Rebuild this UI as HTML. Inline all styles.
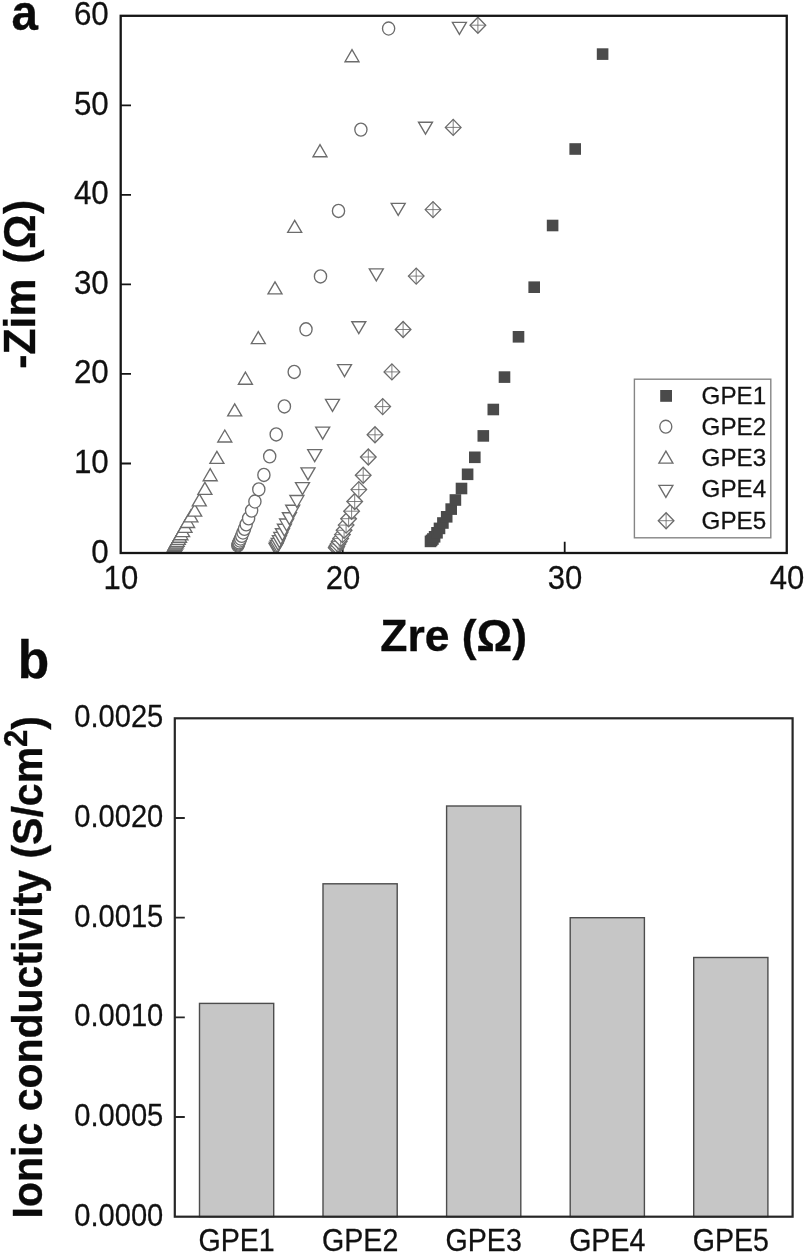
<!DOCTYPE html>
<html><head><meta charset="utf-8"><title>figure</title>
<style>html,body{margin:0;padding:0;background:#fff}svg{display:block;will-change:transform;filter:blur(0.38px)}text{font-family:"Liberation Sans",sans-serif;fill:#111;stroke:#111;stroke-width:0.25px}.tk{font-size:30px}.b{font-weight:bold;fill:#0a0a0a;stroke:#0a0a0a;stroke-width:0.35px}</style></head><body>
<svg width="804" height="1253" viewBox="0 0 804 1253">
<rect width="804" height="1253" fill="#fff"/>
<text class="b" transform="translate(11.60 29.60) scale(1.0 1.07)" font-size="47.5" text-anchor="start">a</text>
<path d="M120.7 463.5h10.3M120.7 373.9h10.3M120.7 284.4h10.3M120.7 194.9h10.3M120.7 105.3h10.3M342.7 553.0v-11.3M564.7 553.0v-11.3" stroke="#151515" stroke-width="1.8" fill="none"/>
<text transform="translate(108.80 562.50) scale(1.0 1.07)" font-size="31.4" text-anchor="end">0</text>
<text transform="translate(108.80 472.97) scale(1.0 1.07)" font-size="31.4" text-anchor="end">10</text>
<text transform="translate(108.80 383.43) scale(1.0 1.07)" font-size="31.4" text-anchor="end">20</text>
<text transform="translate(108.80 293.90) scale(1.0 1.07)" font-size="31.4" text-anchor="end">30</text>
<text transform="translate(108.80 204.37) scale(1.0 1.07)" font-size="31.4" text-anchor="end">40</text>
<text transform="translate(108.80 114.83) scale(1.0 1.07)" font-size="31.4" text-anchor="end">50</text>
<text transform="translate(108.80 25.30) scale(1.0 1.07)" font-size="31.4" text-anchor="end">60</text>
<text transform="translate(120.90 589.00) scale(0.99 1.06)" font-size="31.4" text-anchor="middle">10</text>
<text transform="translate(342.92 589.00) scale(0.99 1.06)" font-size="31.4" text-anchor="middle">20</text>
<text transform="translate(564.93 589.00) scale(0.99 1.06)" font-size="31.4" text-anchor="middle">30</text>
<text transform="translate(786.95 589.00) scale(0.99 1.06)" font-size="31.4" text-anchor="middle">40</text>
<text class="b" transform="translate(34.60 284.20) rotate(-90) scale(0.97 0.99)" font-size="44" text-anchor="middle">-Zim <tspan dx="3.2">(</tspan><tspan dx="0.8">Ω</tspan><tspan dx="0.6">)</tspan></text>
<text class="b" transform="translate(453.60 650.80) scale(1.01 1.0)" font-size="44" text-anchor="middle">Zre (Ω)</text>
<clipPath id="ca"><rect x="120.7" y="15.8" width="666.05" height="538.20"/></clipPath>
<g clip-path="url(#ca)">
<rect x="424.7" y="535.6" width="11.6" height="11.6" fill="#4a4a4a"/><rect x="425.8" y="534.6" width="11.6" height="11.6" fill="#4a4a4a"/><rect x="427.1" y="533.2" width="11.6" height="11.6" fill="#4a4a4a"/><rect x="428.8" y="531.0" width="11.6" height="11.6" fill="#4a4a4a"/><rect x="431.2" y="527.0" width="11.6" height="11.6" fill="#4a4a4a"/><rect x="433.7" y="522.6" width="11.6" height="11.6" fill="#4a4a4a"/><rect x="437.1" y="517.2" width="11.6" height="11.6" fill="#4a4a4a"/><rect x="440.9" y="511.0" width="11.6" height="11.6" fill="#4a4a4a"/><rect x="445.4" y="503.3" width="11.6" height="11.6" fill="#4a4a4a"/><rect x="449.6" y="494.2" width="11.6" height="11.6" fill="#4a4a4a"/><rect x="455.7" y="482.7" width="11.6" height="11.6" fill="#4a4a4a"/><rect x="461.8" y="468.5" width="11.6" height="11.6" fill="#4a4a4a"/><rect x="469.0" y="451.5" width="11.6" height="11.6" fill="#4a4a4a"/><rect x="477.5" y="430.1" width="11.6" height="11.6" fill="#4a4a4a"/><rect x="487.5" y="403.7" width="11.6" height="11.6" fill="#4a4a4a"/><rect x="498.7" y="371.3" width="11.6" height="11.6" fill="#4a4a4a"/><rect x="512.7" y="331.0" width="11.6" height="11.6" fill="#4a4a4a"/><rect x="528.4" y="281.4" width="11.6" height="11.6" fill="#4a4a4a"/><rect x="546.8" y="219.7" width="11.6" height="11.6" fill="#4a4a4a"/><rect x="569.4" y="143.2" width="11.6" height="11.6" fill="#4a4a4a"/><rect x="596.8" y="48.3" width="11.6" height="11.6" fill="#4a4a4a"/>
<g fill="#fff" stroke="#6c6c6c" stroke-width="1.35" stroke-linejoin="miter">
<ellipse cx="237.8" cy="545.5" rx="6.1" ry="6.55"/><ellipse cx="238.2" cy="544.6" rx="6.1" ry="6.55"/><ellipse cx="238.6" cy="543.6" rx="6.1" ry="6.55"/><ellipse cx="239.0" cy="542.4" rx="6.1" ry="6.55"/><ellipse cx="239.8" cy="540.5" rx="6.1" ry="6.55"/><ellipse cx="240.6" cy="538.5" rx="6.1" ry="6.55"/><ellipse cx="241.7" cy="535.8" rx="6.1" ry="6.55"/><ellipse cx="243.0" cy="532.5" rx="6.1" ry="6.55"/><ellipse cx="244.5" cy="528.8" rx="6.1" ry="6.55"/><ellipse cx="246.2" cy="524.3" rx="6.1" ry="6.55"/><ellipse cx="248.6" cy="518.3" rx="6.1" ry="6.55"/><ellipse cx="251.6" cy="510.6" rx="6.1" ry="6.55"/><ellipse cx="254.9" cy="501.5" rx="6.1" ry="6.55"/><ellipse cx="258.8" cy="489.4" rx="6.1" ry="6.55"/><ellipse cx="263.9" cy="474.9" rx="6.1" ry="6.55"/><ellipse cx="269.7" cy="456.3" rx="6.1" ry="6.55"/><ellipse cx="276.2" cy="434.4" rx="6.1" ry="6.55"/><ellipse cx="284.4" cy="406.4" rx="6.1" ry="6.55"/><ellipse cx="294.2" cy="371.9" rx="6.1" ry="6.55"/><ellipse cx="306.0" cy="329.3" rx="6.1" ry="6.55"/><ellipse cx="320.5" cy="276.4" rx="6.1" ry="6.55"/><ellipse cx="338.5" cy="210.9" rx="6.1" ry="6.55"/><ellipse cx="360.9" cy="129.6" rx="6.1" ry="6.55"/><ellipse cx="388.6" cy="28.5" rx="6.1" ry="6.55"/>
<path d="M167.3 551.4L181.3 551.4L174.3 539.4Z"/><path d="M168.0 550.2L182.0 550.2L175.0 538.2Z"/><path d="M168.7 549.0L182.7 549.0L175.7 537.0Z"/><path d="M169.4 547.8L183.4 547.8L176.4 535.8Z"/><path d="M170.2 546.3L184.2 546.3L177.2 534.3Z"/><path d="M171.3 544.4L185.3 544.4L178.3 532.4Z"/><path d="M172.5 542.2L186.5 542.2L179.5 530.2Z"/><path d="M173.9 539.7L187.9 539.7L180.9 527.7Z"/><path d="M175.6 536.6L189.6 536.6L182.6 524.6Z"/><path d="M178.0 532.3L192.0 532.3L185.0 520.3Z"/><path d="M180.6 527.5L194.6 527.5L187.6 515.5Z"/><path d="M183.9 521.9L197.9 521.9L190.9 509.9Z"/><path d="M187.7 516.1L201.7 516.1L194.7 504.1Z"/><path d="M192.3 505.9L206.3 505.9L199.3 493.9Z"/><path d="M197.9 494.3L211.9 494.3L204.9 482.3Z"/><path d="M203.2 480.7L217.2 480.7L210.2 468.7Z"/><path d="M209.9 463.3L223.9 463.3L216.9 451.3Z"/><path d="M217.8 442.0L231.8 442.0L224.8 430.0Z"/><path d="M227.7 415.9L241.7 415.9L234.7 403.9Z"/><path d="M238.4 384.2L252.4 384.2L245.4 372.2Z"/><path d="M251.3 343.6L265.3 343.6L258.3 331.6Z"/><path d="M268.0 293.9L282.0 293.9L275.0 281.9Z"/><path d="M287.7 232.4L301.7 232.4L294.7 220.4Z"/><path d="M313.0 156.7L327.0 156.7L320.0 144.7Z"/><path d="M345.0 61.7L359.0 61.7L352.0 49.7Z"/>
<path d="M269.0 543.3L283.0 543.3L276.0 555.3Z"/><path d="M269.5 542.1L283.5 542.1L276.5 554.1Z"/><path d="M270.2 540.5L284.2 540.5L277.2 552.5Z"/><path d="M271.2 538.3L285.2 538.3L278.2 550.3Z"/><path d="M272.4 535.6L286.4 535.6L279.4 547.6Z"/><path d="M273.8 532.4L287.8 532.4L280.8 544.4Z"/><path d="M275.4 528.7L289.4 528.7L282.4 540.7Z"/><path d="M277.4 524.2L291.4 524.2L284.4 536.2Z"/><path d="M279.6 519.0L293.6 519.0L286.6 531.0Z"/><path d="M282.4 512.7L296.4 512.7L289.4 524.7Z"/><path d="M285.7 505.2L299.7 505.2L292.7 517.2Z"/><path d="M289.9 495.5L303.9 495.5L296.9 507.5Z"/><path d="M295.5 482.6L309.5 482.6L302.5 494.6Z"/><path d="M301.0 467.8L315.0 467.8L308.0 479.8Z"/><path d="M307.7 449.6L321.7 449.6L314.7 461.6Z"/><path d="M315.7 427.1L329.7 427.1L322.7 439.1Z"/><path d="M325.5 399.4L339.5 399.4L332.5 411.4Z"/><path d="M337.5 364.6L351.5 364.6L344.5 376.6Z"/><path d="M351.8 321.7L365.8 321.7L358.8 333.7Z"/><path d="M369.3 268.8L383.3 268.8L376.3 280.8Z"/><path d="M391.2 203.3L405.2 203.3L398.2 215.3Z"/><path d="M418.5 122.2L432.5 122.2L425.5 134.2Z"/><path d="M452.4 22.3L466.4 22.3L459.4 34.3Z"/>
<path d="M328.4 547.8L336.2 539.8L344.0 547.8L336.2 555.8Z"/><path stroke-width="0.85" d="M328.4 547.8H344.0M336.2 540.0V555.6"/><path d="M329.0 546.3L336.8 538.3L344.6 546.3L336.8 554.3Z"/><path stroke-width="0.85" d="M329.0 546.3H344.6M336.8 538.5V554.1"/><path d="M330.1 544.1L337.9 536.1L345.7 544.1L337.9 552.1Z"/><path stroke-width="0.85" d="M330.1 544.1H345.7M337.9 536.3V551.9"/><path d="M331.4 541.5L339.2 533.5L347.0 541.5L339.2 549.5Z"/><path stroke-width="0.85" d="M331.4 541.5H347.0M339.2 533.7V549.3"/><path d="M332.9 538.4L340.7 530.4L348.5 538.4L340.7 546.4Z"/><path stroke-width="0.85" d="M332.9 538.4H348.5M340.7 530.6V546.2"/><path d="M334.6 534.6L342.4 526.6L350.2 534.6L342.4 542.6Z"/><path stroke-width="0.85" d="M334.6 534.6H350.2M342.4 526.8V542.4"/><path d="M336.3 530.3L344.1 522.3L351.9 530.3L344.1 538.3Z"/><path stroke-width="0.85" d="M336.3 530.3H351.9M344.1 522.5V538.1"/><path d="M338.3 525.1L346.1 517.1L353.9 525.1L346.1 533.1Z"/><path stroke-width="0.85" d="M338.3 525.1H353.9M346.1 517.3V532.9"/><path d="M340.8 518.7L348.6 510.7L356.4 518.7L348.6 526.7Z"/><path stroke-width="0.85" d="M340.8 518.7H356.4M348.6 510.9V526.5"/><path d="M343.8 511.2L351.6 503.2L359.4 511.2L351.6 519.2Z"/><path stroke-width="0.85" d="M343.8 511.2H359.4M351.6 503.4V519.0"/><path d="M346.9 501.5L354.7 493.5L362.5 501.5L354.7 509.5Z"/><path stroke-width="0.85" d="M346.9 501.5H362.5M354.7 493.7V509.3"/><path d="M351.0 489.6L358.8 481.6L366.6 489.6L358.8 497.6Z"/><path stroke-width="0.85" d="M351.0 489.6H366.6M358.8 481.8V497.4"/><path d="M355.4 475.3L363.2 467.3L371.0 475.3L363.2 483.3Z"/><path stroke-width="0.85" d="M355.4 475.3H371.0M363.2 467.5V483.1"/><path d="M360.5 457.0L368.3 449.0L376.1 457.0L368.3 465.0Z"/><path stroke-width="0.85" d="M360.5 457.0H376.1M368.3 449.2V464.8"/><path d="M367.2 434.8L375.0 426.8L382.8 434.8L375.0 442.8Z"/><path stroke-width="0.85" d="M367.2 434.8H382.8M375.0 427.0V442.6"/><path d="M374.9 406.6L382.7 398.6L390.5 406.6L382.7 414.6Z"/><path stroke-width="0.85" d="M374.9 406.6H390.5M382.7 398.8V414.4"/><path d="M384.1 371.9L391.9 363.9L399.7 371.9L391.9 379.9Z"/><path stroke-width="0.85" d="M384.1 371.9H399.7M391.9 364.1V379.7"/><path d="M395.3 329.5L403.1 321.5L410.9 329.5L403.1 337.5Z"/><path stroke-width="0.85" d="M395.3 329.5H410.9M403.1 321.7V337.3"/><path d="M408.4 276.1L416.2 268.1L424.0 276.1L416.2 284.1Z"/><path stroke-width="0.85" d="M408.4 276.1H424.0M416.2 268.3V283.9"/><path d="M425.2 209.6L433.0 201.6L440.8 209.6L433.0 217.6Z"/><path stroke-width="0.85" d="M425.2 209.6H440.8M433.0 201.8V217.4"/><path d="M445.4 127.4L453.2 119.4L461.0 127.4L453.2 135.4Z"/><path stroke-width="0.85" d="M445.4 127.4H461.0M453.2 119.6V135.2"/><path d="M470.1 25.2L477.9 17.2L485.7 25.2L477.9 33.2Z"/><path stroke-width="0.85" d="M470.1 25.2H485.7M477.9 17.4V33.0"/>
</g></g>
<rect x="120.7" y="15.8" width="666.05" height="537.20" fill="none" stroke="#151515" stroke-width="2.3"/>
<rect x="634.4" y="379.2" width="136.4" height="158.6" fill="#fff" stroke="#858585" stroke-width="1.4"/>
<rect x="660.2" y="390.0" width="11.8" height="11.8" fill="#4a4a4a"/>
<g fill="#fff" stroke="#6c6c6c" stroke-width="1.35">
<ellipse cx="665.8" cy="426.7" rx="6.0" ry="6.45"/>
<path d="M658.9 463.1L672.9 463.1L665.9 451.1Z"/>
<path d="M658.9 485.4L672.9 485.4L665.9 497.4Z"/>
<path d="M658.3 520.7L666.1 512.7L673.9 520.7L666.1 528.7Z"/><path stroke-width="0.85" d="M658.3 520.7H673.9M666.1 512.9V528.5"/>
</g>
<text transform="translate(701.60 404.00) scale(1.0 1.02)" font-size="24.2" text-anchor="start">GPE1</text>
<text transform="translate(701.60 435.10) scale(1.0 1.02)" font-size="24.2" text-anchor="start">GPE2</text>
<text transform="translate(701.60 466.20) scale(1.0 1.02)" font-size="24.2" text-anchor="start">GPE3</text>
<text transform="translate(701.60 497.40) scale(1.0 1.02)" font-size="24.2" text-anchor="start">GPE4</text>
<text transform="translate(701.60 528.50) scale(1.0 1.02)" font-size="24.2" text-anchor="start">GPE5</text>
<text class="b" transform="translate(17.80 678.20) scale(1.0 1.06)" font-size="51.5" text-anchor="start">b</text>
<rect x="199.5" y="1003.4" width="74.2" height="213.3" fill="#c6c6c6" stroke="#4d4d4d" stroke-width="1.4"/>
<rect x="323.0" y="883.8" width="74.2" height="332.9" fill="#c6c6c6" stroke="#4d4d4d" stroke-width="1.4"/>
<rect x="446.6" y="806.0" width="74.2" height="410.7" fill="#c6c6c6" stroke="#4d4d4d" stroke-width="1.4"/>
<rect x="570.2" y="917.7" width="74.2" height="299.0" fill="#c6c6c6" stroke="#4d4d4d" stroke-width="1.4"/>
<rect x="693.7" y="957.5" width="74.2" height="259.2" fill="#c6c6c6" stroke="#4d4d4d" stroke-width="1.4"/>
<text transform="translate(236.58 1251.00) scale(1.0 1.065)" font-size="28.6" text-anchor="middle">GPE1</text>
<text transform="translate(360.14 1251.00) scale(1.0 1.065)" font-size="28.6" text-anchor="middle">GPE2</text>
<text transform="translate(483.70 1251.00) scale(1.0 1.065)" font-size="28.6" text-anchor="middle">GPE3</text>
<text transform="translate(607.26 1251.00) scale(1.0 1.065)" font-size="28.6" text-anchor="middle">GPE4</text>
<text transform="translate(730.82 1251.00) scale(1.0 1.065)" font-size="28.6" text-anchor="middle">GPE5</text>
<rect x="174.8" y="718.3" width="617.8" height="498.4" fill="none" stroke="#262626" stroke-width="2.2"/>
<path d="M174.8 1117.0h10M174.8 1017.3h10M174.8 917.7h10M174.8 818.0h10" stroke="#262626" stroke-width="1.8" fill="none"/>
<text transform="translate(163.30 1225.60) scale(0.988 1.05)" font-size="29.5" text-anchor="end">0.0000</text>
<text transform="translate(163.30 1125.92) scale(0.988 1.05)" font-size="29.5" text-anchor="end">0.0005</text>
<text transform="translate(163.30 1026.24) scale(0.988 1.05)" font-size="29.5" text-anchor="end">0.0010</text>
<text transform="translate(163.30 926.56) scale(0.988 1.05)" font-size="29.5" text-anchor="end">0.0015</text>
<text transform="translate(163.30 826.88) scale(0.988 1.05)" font-size="29.5" text-anchor="end">0.0020</text>
<text transform="translate(163.30 727.20) scale(0.988 1.05)" font-size="29.5" text-anchor="end">0.0025</text>
<text class="b" transform="translate(41.90 967.20) rotate(-90) scale(1.0 1.045)" font-size="41" text-anchor="middle">Ionic conductivity (S/cm<tspan dy="-14.2" font-size="31">2</tspan><tspan dy="14.2">)</tspan></text>
</svg></body></html>
